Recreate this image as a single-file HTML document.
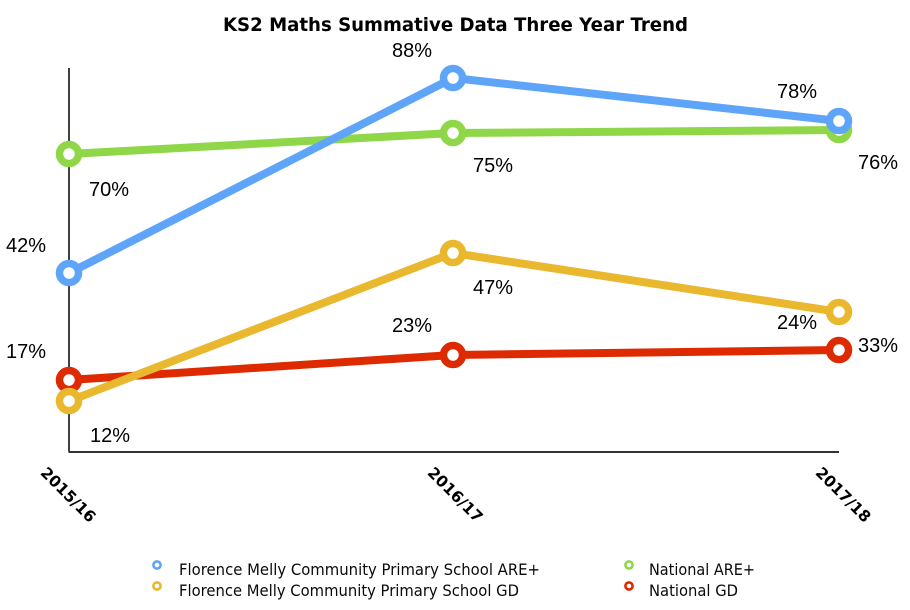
<!DOCTYPE html>
<html>
<head>
<meta charset="utf-8">
<style>
  html, body { margin: 0; padding: 0; background: #ffffff; }
  svg { display: block; }
</style>
</head>
<body>
<svg width="910" height="610" viewBox="0 0 910 610" xmlns="http://www.w3.org/2000/svg">
  <rect width="910" height="610" fill="#ffffff"/>

  <!-- Title -->
  <text x="223" y="31" font-family="DejaVu Sans, Liberation Sans, sans-serif" font-weight="bold" font-size="19" fill="#000" textLength="465" lengthAdjust="spacingAndGlyphs">KS2 Maths Summative Data Three Year Trend</text>

  <!-- Axes -->
  <line x1="69" y1="68" x2="69" y2="452" stroke="#000" stroke-width="1.5"/>
  <line x1="68.5" y1="452" x2="839" y2="452" stroke="#333" stroke-width="2"/>

  <!-- Series: red (National GD) -->
  <g fill="none" stroke-linejoin="round">
    <polyline points="69,380 453,355 839,350" stroke="#DD2A00" stroke-width="8"/>
    <circle cx="69" cy="380" r="9.5" fill="#fff" stroke="#DD2A00" stroke-width="7.5"/>
    <circle cx="453" cy="355" r="9.5" fill="#fff" stroke="#DD2A00" stroke-width="7.5"/>
    <circle cx="839" cy="350" r="9.5" fill="#fff" stroke="#DD2A00" stroke-width="7.5"/>
  </g>

  <!-- Series: green (National ARE+) -->
  <g fill="none" stroke-linejoin="round">
    <polyline points="69,154 453,133 839,130" stroke="#8FD649" stroke-width="8"/>
    <circle cx="69" cy="154" r="9.5" fill="#fff" stroke="#8FD649" stroke-width="7.5"/>
    <circle cx="453" cy="133" r="9.5" fill="#fff" stroke="#8FD649" stroke-width="7.5"/>
    <circle cx="839" cy="130" r="9.5" fill="#fff" stroke="#8FD649" stroke-width="7.5"/>
  </g>

  <!-- Series: yellow (School GD) -->
  <g fill="none" stroke-linejoin="round">
    <polyline points="69,401 453,253 839,312" stroke="#E9B82F" stroke-width="8"/>
    <circle cx="69" cy="401" r="9.5" fill="#fff" stroke="#E9B82F" stroke-width="7.5"/>
    <circle cx="453" cy="253" r="9.5" fill="#fff" stroke="#E9B82F" stroke-width="7.5"/>
    <circle cx="839" cy="312" r="9.5" fill="#fff" stroke="#E9B82F" stroke-width="7.5"/>
  </g>

  <!-- Series: blue (School ARE+) -->
  <g fill="none" stroke-linejoin="round">
    <polyline points="69,273 453,78 839,121" stroke="#5EA5F9" stroke-width="8"/>
    <circle cx="69" cy="273" r="9.5" fill="#fff" stroke="#5EA5F9" stroke-width="7.5"/>
    <circle cx="453" cy="78" r="9.5" fill="#fff" stroke="#5EA5F9" stroke-width="7.5"/>
    <circle cx="839" cy="121" r="9.5" fill="#fff" stroke="#5EA5F9" stroke-width="7.5"/>
  </g>

  <!-- Data labels -->
  <g font-family="Liberation Sans, Arial, sans-serif" font-size="20" fill="#000">
    <text x="392" y="57">88%</text>
    <text x="777" y="98">78%</text>
    <text x="858" y="169">76%</text>
    <text x="473" y="172">75%</text>
    <text x="89" y="196">70%</text>
    <text x="6" y="252">42%</text>
    <text x="473" y="294">47%</text>
    <text x="392" y="332">23%</text>
    <text x="777" y="329">24%</text>
    <text x="858" y="352">33%</text>
    <text x="6" y="358">17%</text>
    <text x="90" y="442">12%</text>
  </g>

  <!-- X-axis category labels (rotated 45deg) -->
  <g font-family="DejaVu Sans, Liberation Sans, sans-serif" font-weight="bold" font-size="15.5" fill="#000" text-anchor="middle">
    <text transform="translate(68,495) rotate(45)" dy="5">2015/16</text>
    <text transform="translate(455,495) rotate(45)" dy="5">2016/17</text>
    <text transform="translate(843,495) rotate(45)" dy="5">2017/18</text>
  </g>

  <!-- Legend -->
  <g fill="#fff" stroke-width="2.6">
    <circle cx="157" cy="565" r="3.6" stroke="#5EA5F9"/>
    <circle cx="157" cy="586" r="3.6" stroke="#E9B82F"/>
    <circle cx="629" cy="565" r="3.6" stroke="#8FD649"/>
    <circle cx="629" cy="586" r="3.6" stroke="#DD2A00"/>
  </g>
  <g font-family="DejaVu Sans, Liberation Sans, sans-serif" font-size="16" fill="#0a0a0a">
    <text x="179" y="575" textLength="361" lengthAdjust="spacingAndGlyphs">Florence Melly Community Primary School ARE+</text>
    <text x="179" y="596" textLength="340" lengthAdjust="spacingAndGlyphs">Florence Melly Community Primary School GD</text>
    <text x="649" y="575" textLength="106" lengthAdjust="spacingAndGlyphs">National ARE+</text>
    <text x="649" y="596" textLength="89" lengthAdjust="spacingAndGlyphs">National GD</text>
  </g>
</svg>
</body>
</html>
